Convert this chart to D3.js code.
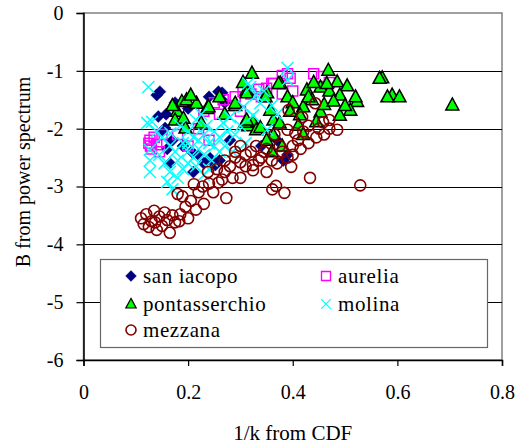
<!DOCTYPE html>
<html>
<head>
<meta charset="utf-8">
<script src="https://cdn.jsdelivr.net/npm/d3@7"></script>
<style>
  body { margin: 0; background: #fff; }
</style>
</head>
<body>
<div class="wrapper"></div>
<script>
// series values, [1/k, B]
var sanIacopo = [[0.146,-1.36],[0.14,-1.42],[0.258,-1.36],[0.265,-1.38],[0.143,-1.79],[0.156,-1.99],
  [0.242,-2.51],[0.382,-2.55],[0.252,-2.63],[0.158,-1.75],[0.207,-2.4],[0.15,-2.05],[0.17,-2.2],
  [0.19,-2.3],[0.22,-2.45],[0.23,-2.6],[0.26,-2.55],[0.28,-2.2],[0.27,-1.55],[0.24,-1.45],
  [0.2,-1.65],[0.175,-1.55],[0.39,-2.45],[0.37,-2.2],[0.34,-2.3],[0.16,-2.35],[0.21,-2.75],[0.165,-2.6]];
var aurelia = [[0.127,-2.2],[0.128,-2.3],[0.13,-2.35],[0.135,-2.15],[0.14,-2.28],[0.125,-2.25],
  [0.145,-2.4],[0.15,-2.1],[0.18,-2.1],[0.2,-2.3],[0.22,-2.0],[0.24,-2.2],[0.395,-1.13],[0.363,-1.22],
  [0.35,-1.3],[0.335,-1.32],[0.44,-1.05],[0.455,-1.1],[0.47,-1.2],[0.267,-1.5],[0.305,-1.36],
  [0.36,-1.22],[0.38,-1.08],[0.39,-1.05],[0.34,-1.45],[0.32,-1.4],[0.29,-1.45],[0.28,-1.6],
  [0.38,-1.4],[0.4,-1.35],[0.3,-1.7],[0.26,-1.75],[0.25,-1.55],[0.23,-1.7]];
var pontasserchio = [[0.322,-1.04],[0.468,-0.99],[0.571,-1.12],[0.566,-1.13],[0.376,-1.21],[0.373,-1.22],
  [0.485,-1.19],[0.453,-1.28],[0.504,-1.26],[0.523,-1.53],[0.51,-1.68],[0.49,-1.42],[0.47,-1.35],
  [0.427,-1.33],[0.437,-1.5],[0.42,-1.62],[0.453,-1.71],[0.46,-1.58],[0.49,-1.77],[0.414,-1.76],
  [0.445,-1.88],[0.351,-1.38],[0.348,-1.45],[0.363,-1.85],[0.324,-1.88],[0.315,-1.95],[0.411,-1.94],
  [0.59,-1.42],[0.581,-1.45],[0.604,-1.45],[0.705,-1.59],[0.312,-1.33],[0.305,-1.2],[0.188,-1.53],
  [0.197,-1.5],[0.216,-1.56],[0.236,-1.65],[0.179,-1.7],[0.175,-1.85],[0.191,-1.82],[0.29,-1.6],
  [0.312,-1.38],[0.309,-1.89],[0.33,-2.02],[0.195,-1.99],[0.239,-1.62],[0.29,-1.56],[0.312,-1.85],
  [0.338,-1.98],[0.357,-1.68],[0.363,-2.11],[0.375,-1.9],[0.39,-1.45],[0.4,-1.55],[0.395,-1.7],
  [0.43,-1.45],[0.478,-1.52],[0.5,-1.6],[0.52,-1.45],[0.465,-1.22],[0.44,-1.2],[0.38,-2.3],
  [0.36,-2.4],[0.42,-2.1],[0.26,-1.45],[0.27,-1.75],[0.225,-1.9],[0.17,-1.6],[0.205,-1.42],[0.35,-2.2]];
var molina = [[0.124,-1.28],[0.39,-0.95],[0.39,-1.16],[0.319,-1.28],[0.315,-1.22],[0.338,-1.56],
  [0.351,-2.02],[0.306,-1.62],[0.324,-1.77],[0.131,-1.88],[0.127,-2.55],[0.166,-2.08],[0.122,-1.9],
  [0.127,-2.37],[0.127,-2.75],[0.16,-2.92],[0.17,-3.05],[0.33,-1.42],[0.345,-1.35],[0.28,-1.8],
  [0.267,-1.9],[0.29,-2.1],[0.31,-2.25],[0.185,-1.95],[0.2,-2.05],[0.21,-2.15],[0.22,-2.2],
  [0.23,-2.1],[0.24,-2.25],[0.25,-2.3],[0.26,-2.15],[0.19,-2.25],[0.2,-2.4],[0.21,-2.5],[0.22,-2.35],
  [0.23,-2.45],[0.245,-2.55],[0.26,-2.4],[0.27,-2.3],[0.18,-2.55],[0.19,-2.7],[0.2,-2.6],[0.215,-2.65],
  [0.175,-2.4],[0.165,-2.3],[0.15,-2.15],[0.145,-2.45],[0.155,-2.6],[0.165,-2.75],[0.18,-2.85],
  [0.235,-1.95],[0.25,-2.05],[0.275,-2.05],[0.285,-2.4],[0.3,-1.95],[0.2,-2.25],[0.24,-2.7],
  [0.23,-2.8],[0.14,-2.05],[0.215,-1.85],[0.225,-1.75],[0.36,-1.6],[0.37,-1.75]];
var mezzana = [[0.11,-3.55],[0.115,-3.65],[0.12,-3.48],[0.125,-3.7],[0.13,-3.6],[0.135,-3.42],
  [0.137,-3.62],[0.14,-3.75],[0.145,-3.52],[0.15,-3.68],[0.155,-3.45],[0.16,-3.58],[0.165,-3.8],
  [0.17,-3.5],[0.175,-3.62],[0.183,-3.6],[0.185,-3.48],[0.189,-3.17],[0.18,-3.13],[0.195,-3.35],
  [0.2,-3.55],[0.205,-3.25],[0.211,-2.96],[0.215,-3.4],[0.22,-3.1],[0.23,-3.3],[0.238,-2.75],
  [0.248,-3.1],[0.258,-2.93],[0.265,-2.88],[0.273,-3.2],[0.24,-2.95],[0.228,-3.0],[0.3,-2.58],
  [0.324,-2.63],[0.324,-2.72],[0.361,-3.05],[0.368,-2.99],[0.384,-3.11],[0.433,-2.85],[0.529,-2.98],
  [0.397,-2.66],[0.31,-2.45],[0.29,-2.5],[0.28,-2.65],[0.34,-2.5],[0.35,-2.35],[0.36,-2.55],
  [0.38,-2.4],[0.4,-2.3],[0.41,-2.2],[0.42,-2.05],[0.392,-1.68],[0.443,-1.56],[0.418,-1.8],
  [0.458,-1.89],[0.485,-2.02],[0.445,-2.15],[0.39,-2.02],[0.405,-2.08],[0.47,-2.0],[0.43,-1.95],
  [0.365,-2.1],[0.33,-2.3],[0.3,-2.3],[0.32,-2.4],[0.37,-2.6],[0.35,-2.75],[0.3,-2.85],[0.27,-2.55],
  [0.29,-2.4],[0.39,-2.5],[0.255,-2.7],[0.27,-2.75],[0.285,-2.85],[0.31,-2.65],[0.335,-2.55],
  [0.345,-2.4],[0.375,-2.3],[0.4,-2.45],[0.415,-2.35],[0.43,-2.25],[0.45,-2.0],[0.46,-2.1],[0.47,-1.85]];

var seriesNames = ["san iacopo", "aurelia", "pontasserchio", "molina", "mezzana"];
var xTicks = [0, 0.2, 0.4, 0.6, 0.8];
var yTicks = [0, -1, -2, -3, -4, -5, -6];

var w = 523, h = 445;
var pLeft = 83.5, pRight = 502, pTop = 13, pBottom = 360;
var serif = "Liberation Serif";

var svg = d3.select(".wrapper").append("svg")
    .attr("width", w)
    .attr("height", h)
    .attr("font-family", serif);

var x = d3.scaleLinear().domain([0, 0.8]).range([pLeft, pRight]);
var y = d3.scaleLinear().domain([-6, 0]).range([pBottom, pTop]);

// plot area frame (top/right grey)
svg.append("rect")
    .attr("x", pLeft).attr("y", pTop)
    .attr("width", pRight - pLeft).attr("height", pBottom - pTop)
    .attr("fill", "none").attr("stroke", "#808080").attr("stroke-width", 1.5);

// gridlines
svg.append("g").selectAll("line")
    .data(yTicks.filter(function(d) { return d < 0 && d > -6; }))
  .enter().append("line")
    .attr("x1", pLeft).attr("x2", pRight)
    .attr("y1", function(d) { return Math.round(y(d)) + 0.5; })
    .attr("y2", function(d) { return Math.round(y(d)) + 0.5; })
    .attr("stroke", "#000").attr("stroke-width", 1);

// markers
function diamond(s) { return "M0," + (-s) + "L" + s + ",0L0," + s + "L" + (-s) + ",0Z"; }
var styles = [
  { data: sanIacopo, path: diamond(6), fill: "#000080", stroke: "#000080", sw: 0.5 },
  { data: aurelia, path: "M-5,-5H5V5H-5Z", fill: "none", stroke: "#ff00ff", sw: 1.5 },
  { data: pontasserchio, path: "M0,-7L6.5,5H-6.5Z", fill: "#00ff00", stroke: "#000", sw: 1.5 },
  { data: molina, path: "M-6,-6L6,6M6,-6L-6,6", fill: "none", stroke: "#00ffff", sw: 1.5 },
  { data: mezzana, path: null, fill: "none", stroke: "#800000", sw: 1.6 }
];

var plot = svg.append("g");
styles.forEach(function(s) {
  var g = plot.append("g");
  if (s.path) {
    g.selectAll("path").data(s.data).enter().append("path")
        .attr("d", s.path)
        .attr("transform", function(d) { return "translate(" + x(d[0]) + "," + y(d[1]) + ")"; })
        .attr("fill", s.fill).attr("stroke", s.stroke).attr("stroke-width", s.sw);
  } else {
    g.selectAll("circle").data(s.data).enter().append("circle")
        .attr("cx", function(d) { return x(d[0]); })
        .attr("cy", function(d) { return y(d[1]); })
        .attr("r", 5.5)
        .attr("fill", s.fill).attr("stroke", s.stroke).attr("stroke-width", s.sw);
  }
});

// axes
var xAxis = svg.append("g")
    .attr("transform", "translate(0," + pBottom + ")")
    .call(d3.axisBottom(x).tickValues(xTicks).tickSize(6).tickPadding(19)
      .tickFormat(function(d) { return d === 0 ? "0" : d3.format(".1f")(d); }));
var yAxis = svg.append("g")
    .attr("transform", "translate(" + pLeft + ",0)")
    .call(d3.axisLeft(y).tickValues(yTicks).tickSize(7).tickPadding(13)
      .tickFormat(function(d) { return d === 0 ? "0" : "-" + Math.abs(d); }));
[xAxis, yAxis].forEach(function(a) {
  a.attr("font-family", serif);
  a.select(".domain").attr("stroke", "#000").attr("stroke-width", 1.5);
  a.selectAll(".tick line").attr("stroke", "#000").attr("stroke-width", 1.2);
  a.selectAll("text").attr("font-family", serif).attr("font-size", 20).attr("fill", "#000");
});

// axis titles
svg.append("text")
    .attr("x", (pLeft + pRight) / 2).attr("y", 440)
    .attr("text-anchor", "middle").attr("font-size", 21)
    .attr("font-family", serif)
    .text("1/k from CDF");
svg.append("text")
    .attr("transform", "translate(30,172) rotate(-90)")
    .attr("text-anchor", "middle").attr("font-size", 20)
    .attr("font-family", serif)
    .text("B from power spectrum");

// legend
var legend = svg.append("g");
legend.append("rect")
    .attr("x", 100.5).attr("y", 259.5).attr("width", 387).attr("height", 88)
    .attr("fill", "#fff").attr("stroke", "#666").attr("stroke-width", 1.2);
var legPos = [[131, 276], [326, 276], [131, 304], [326, 304], [131, 330]];
var legScale = [0.9, 0.9, 0.8, 0.8, 0.9];
styles.forEach(function(s, i) {
  var p = legPos[i];
  if (s.path) {
    legend.append("path").attr("d", s.path)
        .attr("transform", "translate(" + p[0] + "," + p[1] + ") scale(" + legScale[i] + ")")
        .attr("fill", s.fill).attr("stroke", s.stroke).attr("stroke-width", s.sw);
  } else {
    legend.append("circle").attr("cx", p[0]).attr("cy", p[1]).attr("r", 5)
        .attr("fill", "none").attr("stroke", s.stroke).attr("stroke-width", s.sw);
  }
  legend.append("text")
      .attr("x", p[0] + 12).attr("y", p[1] + 7)
      .attr("font-family", serif)
      .attr("font-size", 21)
      .attr("letter-spacing", 0.6)
      .text(seriesNames[i]);
});
</script>
</body>
</html>
